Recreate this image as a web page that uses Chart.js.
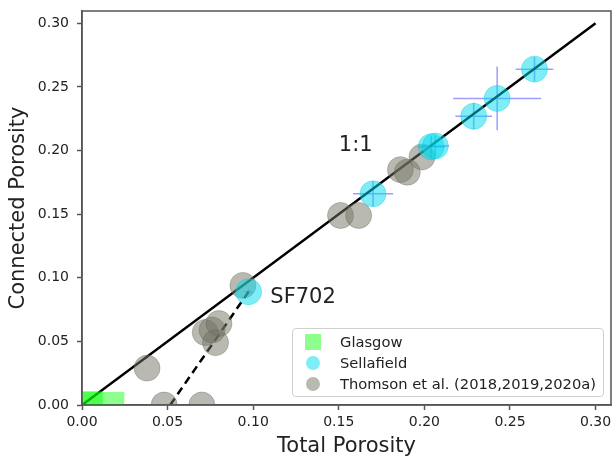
<!DOCTYPE html>
<html>
<head>
<meta charset="utf-8">
<script src="https://cdn.jsdelivr.net/npm/chart.js@4"></script>
<style>
  html, body { margin: 0; padding: 0; background: #fff; }
  #wrap { position: relative; width: 613px; height: 459px; }
  #legend {
    position: absolute; left: 292px; top: 328px; width: 312px; height: 69px;
    box-sizing: border-box; border: 1px solid #d0d0d0; border-radius: 4px;
    background: rgba(255,255,255,0.85);
    font-family: "DejaVu Sans", sans-serif; font-size: 14.7px; color: #222;
  }
  .row { position: absolute; left: 0; height: 20px; line-height: 20px; white-space: nowrap; }
  .row span.txt { position: absolute; left: 47px; top: 0; }
  .mk { position: absolute; }
</style>
</head>
<body>
<div id="wrap">
  <canvas id="grafico" width="613" height="459"></canvas>
  <div id="legend">
    <div class="row" style="top:3px"><div class="mk" style="left:12px;top:2px;width:16px;height:16px;background:rgba(0,255,0,0.45)"></div><span class="txt">Glasgow</span></div>
    <div class="row" style="top:24px"><div class="mk" style="left:13px;top:3px;width:14px;height:14px;border-radius:50%;background:rgba(0,220,235,0.5)"></div><span class="txt">Sellafield</span></div>
    <div class="row" style="top:45px"><div class="mk" style="left:13px;top:3px;width:14px;height:14px;border-radius:50%;background:rgba(115,115,100,0.5)"></div><span class="txt">Thomson et al. (2018,2019,2020a)</span></div>
  </div>
</div>
<script>
// valores
const glasgowX = [0.006, 0.0062, 0.0185];
const glasgowY = [0.002, 0.0025, 0.002];

const sellafieldX = [0.0973, 0.170, 0.204, 0.2064, 0.2288, 0.2425, 0.2643];
const sellafieldY = [0.089, 0.166, 0.203, 0.2036, 0.227, 0.241, 0.264];
const sellafieldErrX = [0.002, 0.0117, 0.008, 0.008, 0.0107, 0.0257, 0.011];
const sellafieldErrY = [0.002, 0.0098, 0.0085, 0.0085, 0.0105, 0.025, 0.0096];

const thomsonX = [0.038, 0.048, 0.070, 0.072, 0.076, 0.080, 0.078, 0.094, 0.151, 0.1616, 0.186, 0.190, 0.1986];
const thomsonY = [0.029, 0.0, 0.0, 0.057, 0.059, 0.064, 0.049, 0.094, 0.149, 0.149, 0.185, 0.183, 0.195];

const lineOneX = [0, 0.30];
const lineOneY = [0, 0.30];
const dashX = [0.0515, 0.0973];
const dashY = [0, 0.089];

const tickValues = [0, 0.05, 0.10, 0.15, 0.20, 0.25, 0.30];
const anotacoes = [
    { text: '1:1', x: 0.15, y: 0.20 },
    { text: 'SF702', x: 0.11, y: 0.08 }
];

const pts = (xs, ys) => xs.map((x, i) => ({ x: x, y: ys[i] }));
const FONT = '"DejaVu Sans", sans-serif';
const AXIS = '#555';

// moldura, barras de erro e textos
const extras = {
    id: 'extras',
    beforeDatasetsDraw(chart) {
        const { ctx, chartArea, scales } = chart;
        ctx.save();
        ctx.beginPath();
        ctx.rect(chartArea.left, chartArea.top, chartArea.right - chartArea.left, chartArea.bottom - chartArea.top);
        ctx.clip();
        ctx.strokeStyle = 'rgba(40,40,255,0.45)';
        ctx.lineWidth = 1.5;
        sellafieldX.forEach((x, i) => {
            const y = sellafieldY[i];
            const px = scales.x.getPixelForValue(x), py = scales.y.getPixelForValue(y);
            ctx.beginPath();
            ctx.moveTo(scales.x.getPixelForValue(x - sellafieldErrX[i]), py);
            ctx.lineTo(scales.x.getPixelForValue(x + sellafieldErrX[i]), py);
            ctx.moveTo(px, scales.y.getPixelForValue(y - sellafieldErrY[i]));
            ctx.lineTo(px, scales.y.getPixelForValue(y + sellafieldErrY[i]));
            ctx.stroke();
        });
        ctx.restore();
    },
    afterDatasetsDraw(chart) {
        const { ctx, chartArea, scales } = chart;
        ctx.save();
        ctx.fillStyle = '#222';
        ctx.font = '21px ' + FONT;
        ctx.textAlign = 'left';
        ctx.textBaseline = 'alphabetic';
        anotacoes.forEach(a => {
            ctx.fillText(a.text, scales.x.getPixelForValue(a.x), scales.y.getPixelForValue(a.y));
        });
        ctx.strokeStyle = AXIS;
        ctx.lineWidth = 1.5;
        ctx.strokeRect(chartArea.left, chartArea.top, chartArea.right - chartArea.left, chartArea.bottom - chartArea.top);
        ctx.restore();
    }
};

const eixo = (titulo, max, isX) => ({
    type: 'linear',
    min: 0,
    max: max,
    afterBuildTicks: scale => { scale.ticks = tickValues.map(v => ({ value: v })); },
    afterFit: scale => {
        if (isX) scale.height = 54; else scale.width = 82;
        scale.paddingLeft = 0;
        scale.paddingRight = 0;
        scale.paddingTop = 0;
        scale.paddingBottom = 0;
    },
    grid: { drawOnChartArea: false, drawTicks: true, tickLength: 5, tickColor: AXIS, tickWidth: 1.5 },
    border: { display: true, color: AXIS, width: 1.5 },
    ticks: {
        color: '#222',
        font: { family: FONT, size: 14 },
        padding: isX ? 4 : 8,
        maxRotation: 0,
        callback: v => v.toFixed(2)
    },
    title: {
        display: true,
        text: titulo,
        color: '#222',
        font: { family: FONT, size: 21 },
        padding: isX ? { top: 0, bottom: 0 } : { top: 6, bottom: 0 }
    }
});

new Chart(document.getElementById('grafico'), {
    type: 'scatter',
    data: {
        datasets: [
            {
                label: 'Glasgow',
                data: pts(glasgowX, glasgowY),
                pointStyle: 'rect',
                pointRadius: 15,
                backgroundColor: 'rgba(0,255,0,0.45)',
                borderWidth: 0,
                clip: 0
            },
            {
                label: 'Sellafield',
                data: pts(sellafieldX, sellafieldY),
                pointRadius: 13,
                backgroundColor: 'rgba(0,220,235,0.5)',
                borderColor: 'rgba(0,200,220,0.35)',
                borderWidth: 1,
                clip: 0
            },
            {
                label: 'Thomson et al. (2018,2019,2020a)',
                data: pts(thomsonX, thomsonY),
                pointRadius: 13,
                backgroundColor: 'rgba(115,115,100,0.5)',
                borderColor: 'rgba(100,100,90,0.35)',
                borderWidth: 1,
                clip: 0
            },
            {
                type: 'line',
                data: pts(lineOneX, lineOneY),
                borderColor: '#000',
                borderWidth: 2.5,
                pointRadius: 0,
                clip: 0
            },
            {
                type: 'line',
                data: pts(dashX, dashY),
                borderColor: '#000',
                borderWidth: 2.5,
                borderDash: [8, 5],
                pointRadius: 0,
                clip: 0
            }
        ]
    },
    options: {
        responsive: false,
        animation: false,
        devicePixelRatio: 1,
        layout: { autoPadding: false, padding: { top: 11, right: 2, left: 0, bottom: 0 } },
        plugins: {
            legend: { display: false },
            title: { display: false },
            tooltip: { enabled: false }
        },
        scales: {
            x: eixo('Total Porosity', 0.309, true),
            y: eixo('Connected Porosity', 0.3097, false)
        }
    },
    plugins: [extras]
});
</script>
</body>
</html>
